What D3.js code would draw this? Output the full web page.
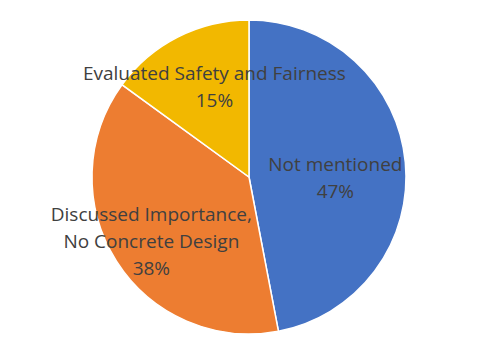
<!DOCTYPE html>
<html>
<head>
<meta charset="utf-8">
<script src="https://cdn.jsdelivr.net/npm/d3@7"></script>
<style>
  body { margin: 0; background: #fff; }
  text { font-family: "Open Sans", "Liberation Sans", sans-serif; fill: #404040; }
</style>
</head>
<body>
<div id="chart"></div>
<script>
// chart data
const categories = ["Not mentioned", "Discussed Importance,\nNo Concrete Design", "Evaluated Safety and Fairness"];
const values = [47, 38, 15];
const sliceColors = ["#4472C4", "#ED7D31", "#F2B800"];

const width = 498, height = 356;
const cx = 249, cy = 177, radius = 157;

// label placement (fraction of radius, angle shift in degrees)
const labelRadius = [0.55, 0.745, 0.615];
const labelShift = [6, -1, 6];

const svg = d3.select("#chart")
  .append("svg")
    .attr("width", width)
    .attr("height", height);

const g = svg.append("g")
    .attr("transform", "translate(" + cx + "," + cy + ")");

const pie = d3.pie().sort(null).value(d => d.value);
const arc = d3.arc().innerRadius(0).outerRadius(radius);

const data = categories.map((c, i) => ({ name: c, value: values[i], color: sliceColors[i] }));
const arcs = pie(data);

g.selectAll("path")
  .data(arcs)
  .enter().append("path")
    .attr("d", arc)
    .attr("fill", d => d.data.color)
    .attr("stroke", "#fff")
    .attr("stroke-width", 1.5);

const fontSize = 19, lineH = 27;

const labels = g.selectAll("g.label")
  .data(arcs)
  .enter().append("g")
    .attr("class", "label")
    .attr("transform", (d, i) => {
      const mid = (d.startAngle + d.endAngle) / 2 + labelShift[i] * Math.PI / 180;
      const p = d3.pointRadial(mid, radius * labelRadius[i]);
      return "translate(" + p[0] + "," + p[1] + ")";
    });

labels.each(function(d) {
  const lines = d.data.name.split("\n").concat([d.data.value + "%"]);
  const t = d3.select(this).append("text")
      .attr("text-anchor", "middle")
      .style("font-size", fontSize + "px");
  const top = -(lines.length - 1) * lineH / 2;
  lines.forEach((l, k) => {
    t.append("tspan")
      .attr("x", 0)
      .attr("y", top + k * lineH)
      .attr("dy", "0.35em")
      .text(l);
  });
});
</script>
</body>
</html>
